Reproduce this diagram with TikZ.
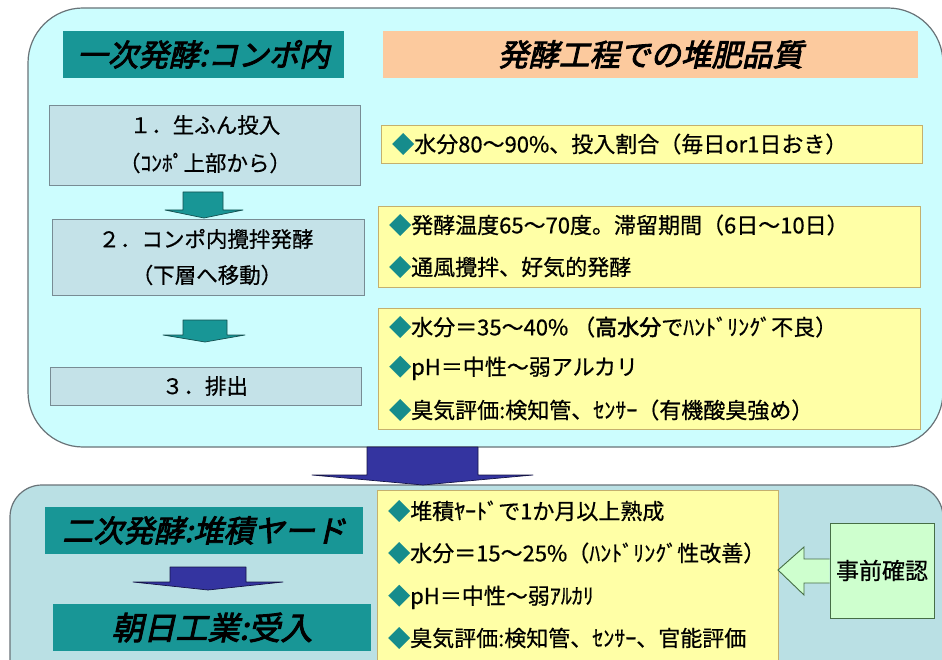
\documentclass[tikz,border=0pt]{standalone}
\usepackage{fontspec}
\setmainfont[FakeBold=0.6]{Noto Sans CJK JP}
\newfontfamily\hdfont[FakeSlant=0.22,FakeBold=2.8]{Noto Sans CJK JP}
\newfontfamily\bfcjk[FakeBold=2.2]{Noto Sans CJK JP}
\definecolor{topbg}{RGB}{204,253,254}
\definecolor{botbg}{RGB}{186,224,228}
\definecolor{panelline}{RGB}{105,115,120}
\definecolor{teal1}{RGB}{24,150,150}
\definecolor{tealdark}{RGB}{20,80,80}
\definecolor{orange1}{RGB}{252,202,158}
\definecolor{stepfill}{RGB}{196,226,232}
\definecolor{stepline}{RGB}{120,140,148}
\definecolor{yfill}{RGB}{255,255,166}
\definecolor{yline}{RGB}{196,176,110}
\definecolor{navy1}{RGB}{52,52,160}
\definecolor{navydark}{RGB}{20,20,70}
\definecolor{gfill}{RGB}{206,255,206}
\definecolor{gline}{RGB}{70,110,70}
\definecolor{bul}{RGB}{22,140,140}
\newcommand{\bl}{\textcolor{bul}{◆}}
\newcommand{\hdsize}{\fontsize{30.5}{30.5}\selectfont}
\newcommand{\txsize}{\fontsize{22}{22}\selectfont}
\newcommand{\stsize}{\fontsize{21.5}{21.5}\selectfont}
\tikzset{
  panel/.style={draw=panelline, line width=1.2pt},
  tealhd/.style={fill=teal1, draw=none, inner sep=0pt, font=\hdfont\hdsize},
  orangehd/.style={fill=orange1, draw=none, inner sep=0pt, font=\hdfont\hdsize},
  stepbox/.style={fill=stepfill, draw=stepline, line width=0.9pt, inner sep=0pt},
  ybox/.style={fill=yfill, draw=yline, line width=0.9pt, inner sep=0pt},
  gbox/.style={fill=gfill, draw=gline, line width=0.9pt, inner sep=0pt, font=\fontsize{23}{23}\selectfont},
  txt/.style={inner sep=0pt, font=\stsize},
  ltxt/.style={inner sep=0pt, anchor=west, font=\txsize},
  tealarrow/.style={fill=teal1, draw=tealdark, line width=0.7pt, line join=round},
  navyarrow/.style={fill=navy1, draw=navydark, line width=0.7pt, line join=round},
  greenarrow/.style={fill=gfill, draw=gline, line width=0.9pt}
}
\begin{document}
\begin{tikzpicture}[x=1pt,y=-1pt]
\useasboundingbox (0,0) rectangle (942,660);
\clip (0,0) rectangle (942,660);
\fill[white] (0,0) rectangle (942,660);
% panels
\draw[panel, fill=topbg, rounded corners=55pt] (28,8) rectangle (943,447);
\draw[panel, fill=botbg, rounded corners=32pt] (10,485) rectangle (943,720);
% big arrow between panels
\draw[navyarrow] (367,447) -- (478,447) -- (478,475) -- (533,475) -- (423,485) -- (312,475) -- (367,475) -- cycle;
% headers
\node[tealhd, minimum width=281pt, minimum height=47pt] (h1) at (203.5,54.5) {一次発酵:コンポ内};
\node[orangehd, minimum width=535pt, minimum height=47pt] (h2) at (650.5,54.5) {発酵工程での堆肥品質};
% step boxes
\node[stepbox, minimum width=311pt, minimum height=80pt] (s1) at (204.5,145) {};
\node[txt] (s1a) at (205,125) {１．生ふん投入};
\node[txt] (s1b) at (205,163) {（ｺﾝﾎﾟ上部から）};
\node[stepbox, minimum width=312pt, minimum height=76pt] (s2) at (208,257) {};
\node[txt] (s2a) at (206,239) {２．コンポ内攪拌発酵};
\node[txt] (s2b) at (207,275) {（下層へ移動）};
\node[stepbox, minimum width=311pt, minimum height=38pt] (s3) at (205.5,386) {};
\node[txt] (s3a) at (205,386) {３．排出};
% small teal arrows
\draw[tealarrow] (183,192) -- (223,192) -- (223,210) -- (243,210) -- (204,218) -- (165,210) -- (183,210) -- cycle;
\draw[tealarrow] (183,320) -- (227,320) -- (227,335) -- (245,335) -- (205,342) -- (163,335) -- (183,335) -- cycle;
% yellow boxes top
\node[ybox, minimum width=541pt, minimum height=38pt] (y1) at (651.5,144) {};
\node[ltxt] (y1a) at (392,144) {\bl 水分80～90\%、投入割合（毎日or1日おき）};
\node[ybox, minimum width=542pt, minimum height=81pt] (y2) at (649,246.5) {};
\node[ltxt] (y2a) at (389,225) {\bl 発酵温度65～70度。滞留期間（6日～10日）};
\node[ltxt] (y2b) at (389,267) {\bl 通風攪拌、好気的発酵};
\node[ybox, minimum width=542pt, minimum height=121pt] (y3) at (649,368.5) {};
\node[ltxt] (y3a) at (389,327) {\bl 水分＝35～40\% （{\bfcjk 高水分}でﾊﾝﾄﾞﾘﾝｸﾞ不良）};
\node[ltxt] (y3b) at (389,368) {\bl pH＝中性～弱アルカリ};
\node[ltxt] (y3c) at (389,410) {\bl 臭気評価:検知管、ｾﾝｻｰ（有機酸臭強め）};
% bottom panel
\node[tealhd, minimum width=318pt, minimum height=47pt] (h3) at (204,530.5) {二次発酵:堆積ヤード};
\node[tealhd, minimum width=318pt, minimum height=47pt, font=\hdfont\fontsize{32}{32}\selectfont] (h4) at (212,627.5) {朝日工業:受入};
\draw[navyarrow] (170,567) -- (246,567) -- (246,582) -- (283,582) -- (208,590) -- (133,582) -- (170,582) -- cycle;
\node[ybox, minimum width=401pt, minimum height=180pt] (yb) at (577.5,580) {};
\node[ltxt] (yb1) at (388,511) {\bl 堆積ﾔｰﾄﾞで1か月以上熟成};
\node[ltxt] (yb2) at (388,553) {\bl 水分＝15～25\%（ﾊﾝﾄﾞﾘﾝｸﾞ性改善）};
\node[ltxt] (yb3) at (388,597) {\bl pH＝中性～弱ｱﾙｶﾘ};
\node[ltxt] (yb4) at (388,638) {\bl 臭気評価:検知管、ｾﾝｻｰ、官能評価};
% confirmation box and arrow
\node[gbox, minimum width=104pt, minimum height=95pt] (g) at (882,570.5) {事前確認};
\coordinate (gt) at (778,570);
\draw[greenarrow] (g.west |- 0,559) -- (804,559) -- (804,547) -- (gt) -- (804,595) -- (804,583) -- (g.west |- 0,583);
\end{tikzpicture}
\end{document}
